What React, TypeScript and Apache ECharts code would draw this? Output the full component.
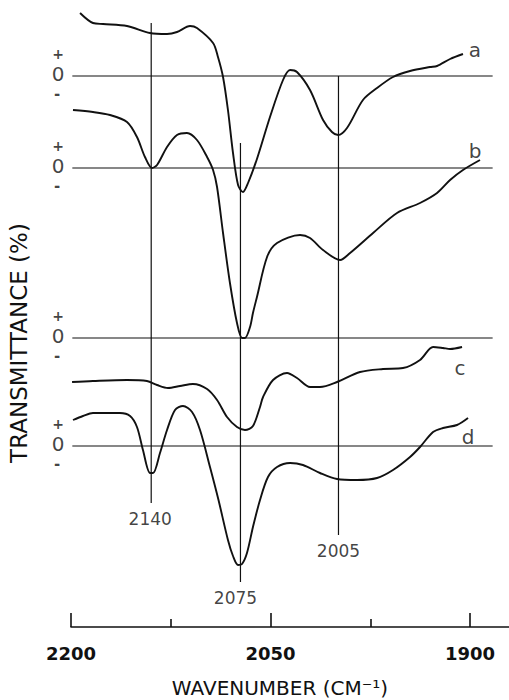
import React, { useEffect, useRef } from "react";
import * as echarts from "echarts";

// ---- data (wavenumber in cm^-1, transmittance change relative to each spectrum's zero line) ----
const spectrumNames = ["a", "b", "c", "d"];
const baselines = [551, 459, 289, 181];

const aWavenumber = [2193.2, 2183.5, 2175.9, 2157.9, 2140.6, 2127.8, 2120.3, 2110.5, 2105.3, 2093.2, 2089.5, 2085.7, 2082.0, 2078.2, 2074.4, 2070.7, 2066.9, 2060.2, 2050.4, 2040.6, 2035.3, 2030.1, 2020.3, 2010.5, 2003.8, 1999.2, 1992.5, 1980.5, 1969.9, 1957.9, 1945.1, 1930.1, 1924.8, 1915.0, 1905.3];
const aValue = [63, 53, 52, 50, 43, 42, 44, 50, 48, 33, 19, -1, -34, -77, -109, -116, -107, -83, -41, -4, 6, 4, -14, -44, -56, -59, -52, -24, -12, -1, 5, 9, 10, 17, 22];

const bWavenumber = [2198.5, 2183.5, 2170.7, 2157.9, 2150.4, 2144.4, 2139.1, 2135.3, 2127.8, 2120.3, 2112.8, 2105.3, 2097.7, 2093.2, 2090.2, 2085.7, 2080.5, 2075.2, 2071.4, 2069.2, 2065.4, 2063.2, 2060.2, 2052.6, 2045.1, 2027.8, 2020.3, 2010.5, 1997.7, 1990.2, 1972.9, 1954.9, 1937.6, 1924.8, 1915.0, 1905.3, 1892.5];
const bValue = [58, 56, 53, 46, 31, 11, 0, 3, 21, 33, 35, 28, 11, -2, -19, -65, -115, -155, -170, -170, -159, -145, -129, -89, -75, -67, -70, -82, -92, -85, -65, -45, -35, -25, -12, -2, 8];

const cWavenumber = [2199.2, 2183.5, 2157.9, 2142.9, 2135.3, 2127.1, 2118.0, 2108.3, 2097.7, 2090.2, 2082.7, 2075.2, 2069.2, 2063.2, 2057.9, 2055.6, 2048.1, 2037.6, 2030.1, 2020.3, 2012.8, 2000.0, 1982.7, 1965.4, 1950.4, 1937.6, 1927.8, 1920.3, 1915.0, 1906.0];
const cValue = [-44, -43, -42, -43, -47, -50, -48, -46, -51, -62, -79, -89, -92, -88, -69, -59, -42, -35, -40, -49, -49, -44, -34, -31, -30, -22, -9, -10, -11, -9];

const dWavenumber = [2198.5, 2191.0, 2183.5, 2163.2, 2155.6, 2150.4, 2145.9, 2140.6, 2138.3, 2133.1, 2127.8, 2121.8, 2115.8, 2109.0, 2103.0, 2095.5, 2089.1, 2082.0, 2078.2, 2074.4, 2071.4, 2067.7, 2063.2, 2057.9, 2051.9, 2045.1, 2035.3, 2025.6, 2012.8, 2000.0, 1985.0, 1969.9, 1957.9, 1945.1, 1937.6, 1927.8, 1920.3, 1909.8, 1901.5];
const dValue = [26, 30, 33, 33, 30, 19, -4, -27, -27, -7, 16, 36, 40, 34, 16, -21, -54, -94, -110, -119, -118, -107, -81, -54, -31, -21, -17, -19, -27, -33, -34, -32, -24, -11, -1, 14, 18, 21, 28];

const peakWavenumber = [2139.7, 2072.6, 1998.9];
const peakLabels = ["2140", "2075", "2005"];
const peakTop = [604, 484, 551];
const peakBottom = [124, 45, 92];

const majorTicks = [2200, 2050, 1900];
const minorTicks = [2125, 1975];
const zeroLineFrom = 2199;
const zeroLineTo = 1883;
const zeroMarks = ["+", "0", "-"];

const FONT = "DejaVu Sans";
const INK = "#111";

export default function App() {
  const ref = useRef<HTMLDivElement>(null);

  useEffect(() => {
    if (!ref.current) return;
    const chart = echarts.init(ref.current, undefined, { renderer: "svg" });

    const spectra = [
      { wn: aWavenumber, val: aValue },
      { wn: bWavenumber, val: bValue },
      { wn: cWavenumber, val: cValue },
      { wn: dWavenumber, val: dValue },
    ];
    const letterOffsets = [
      [12, -4],
      [-5, -9],
      [-2, 21],
      [0, 19],
    ];

    const series: any[] = [];
    spectra.forEach((s, i) => {
      series.push({
        type: "line",
        name: spectrumNames[i],
        data: s.wn.map((w, k) => [w, baselines[i] + s.val[k]]),
        smooth: 0.3,
        symbol: "none",
        silent: true,
        z: 3,
        lineStyle: { color: INK, width: 1.9 },
      });
      series.push({
        type: "line",
        name: "zero " + spectrumNames[i],
        data: [
          [zeroLineFrom, baselines[i]],
          [zeroLineTo, baselines[i]],
        ],
        symbol: "none",
        silent: true,
        z: 2,
        lineStyle: { color: INK, width: 1.1 },
      });
    });

    peakWavenumber.forEach((w, i) => {
      series.push({
        type: "line",
        name: "peak " + peakLabels[i],
        data: [
          [w, peakTop[i]],
          [w, peakBottom[i]],
        ],
        symbol: "none",
        silent: true,
        z: 2,
        lineStyle: { color: INK, width: 1.2 },
      });
    });

    const peakLabelOffsets = [
      [-1, 0],
      [-5, 0],
      [0, 0],
    ];
    series.push({
      type: "scatter",
      name: "peak labels",
      clip: false,
      silent: true,
      symbolSize: 1,
      itemStyle: { color: "rgba(0,0,0,0)" },
      data: peakWavenumber.map((w, i) => ({ value: [w, peakBottom[i]], label: { offset: peakLabelOffsets[i] } })),
      label: {
        show: true,
        position: "bottom",
        distance: 7,
        formatter: (p: any) => peakLabels[p.dataIndex],
        fontFamily: FONT,
        fontSize: 17,
        color: INK,
      },
    });

    series.push({
      type: "scatter",
      name: "spectrum letters",
      clip: false,
      silent: true,
      symbolSize: 1,
      itemStyle: { color: "rgba(0,0,0,0)" },
      data: spectra.map((s, i) => ({
        value: [s.wn[s.wn.length - 1], baselines[i] + s.val[s.val.length - 1]],
        label: { offset: letterOffsets[i] },
      })),
      label: {
        show: true,
        position: "inside",
        formatter: (p: any) => spectrumNames[p.dataIndex],
        fontFamily: FONT,
        fontSize: 20,
        color: INK,
      },
    });

    // sign marks beside every zero line: "+" above, "0" on it, "-" below
    const markStyles = [
      { offset: [-13, -22], fontSize: 14, fontWeight: "bold" },
      { offset: [-13, -2], fontSize: 20, fontWeight: "normal" },
      { offset: [-14, 18], fontSize: 15, fontWeight: "bold" },
    ];
    zeroMarks.forEach((m, j) => {
      series.push({
        type: "scatter",
        name: "zero mark " + m,
        clip: false,
        silent: true,
        symbolSize: 1,
        itemStyle: { color: "rgba(0,0,0,0)" },
        data: baselines.map((b) => [2200, b]),
        label: {
          show: true,
          position: "inside",
          offset: markStyles[j].offset,
          formatter: m,
          fontFamily: FONT,
          fontSize: markStyles[j].fontSize,
          fontWeight: markStyles[j].fontWeight,
          color: INK,
        },
      });
    });

    chart.setOption({
      animation: false,
      backgroundColor: "#ffffff",
      grid: { left: 71, right: 0, top: 0, bottom: 73, containLabel: false, outerBoundsMode: "none" },
      xAxis: [
        {
          type: "value",
          min: 1870.7,
          max: 2200,
          inverse: true,
          axisLine: { show: true, lineStyle: { color: INK, width: 1.6 } },
          axisTick: { show: true, inside: true, length: 14, customValues: majorTicks, lineStyle: { color: INK, width: 1.6 } },
          axisLabel: {
            show: true,
            customValues: majorTicks,
            formatter: (v: number) => String(Math.round(v)),
            margin: 17,
            fontFamily: FONT,
            fontSize: 18,
            fontWeight: "bold",
            color: INK,
          },
          splitLine: { show: false },
        },
        {
          type: "value",
          min: 1870.7,
          max: 2200,
          inverse: true,
          position: "bottom",
          offset: 0,
          axisLine: { show: false },
          axisTick: { show: true, inside: true, length: 8, customValues: minorTicks, lineStyle: { color: INK, width: 1.6 } },
          axisLabel: { show: false },
          splitLine: { show: false },
        },
      ],
      yAxis: { type: "value", min: 0, max: 627, show: false },
      graphic: [
        {
          type: "text",
          x: 19,
          y: 343,
          rotation: Math.PI / 2,
          style: {
            text: "TRANSMITTANCE (%)",
            fontFamily: FONT,
            fontSize: 23,
            fill: INK,
            align: "center",
            verticalAlign: "middle",
          },
        },
        {
          type: "text",
          x: 280,
          y: 688,
          style: {
            text: "WAVENUMBER (CM⁻¹)",
            fontFamily: FONT,
            fontSize: 20,
            fill: INK,
            align: "center",
            verticalAlign: "middle",
          },
        },
      ],
      series,
    });

    return () => chart.dispose();
  }, []);

  return (
    <div
      ref={ref}
      style={{ position: "fixed", left: 0, top: 0, width: 509, height: 700, background: "#fff" }}
    />
  );
}
